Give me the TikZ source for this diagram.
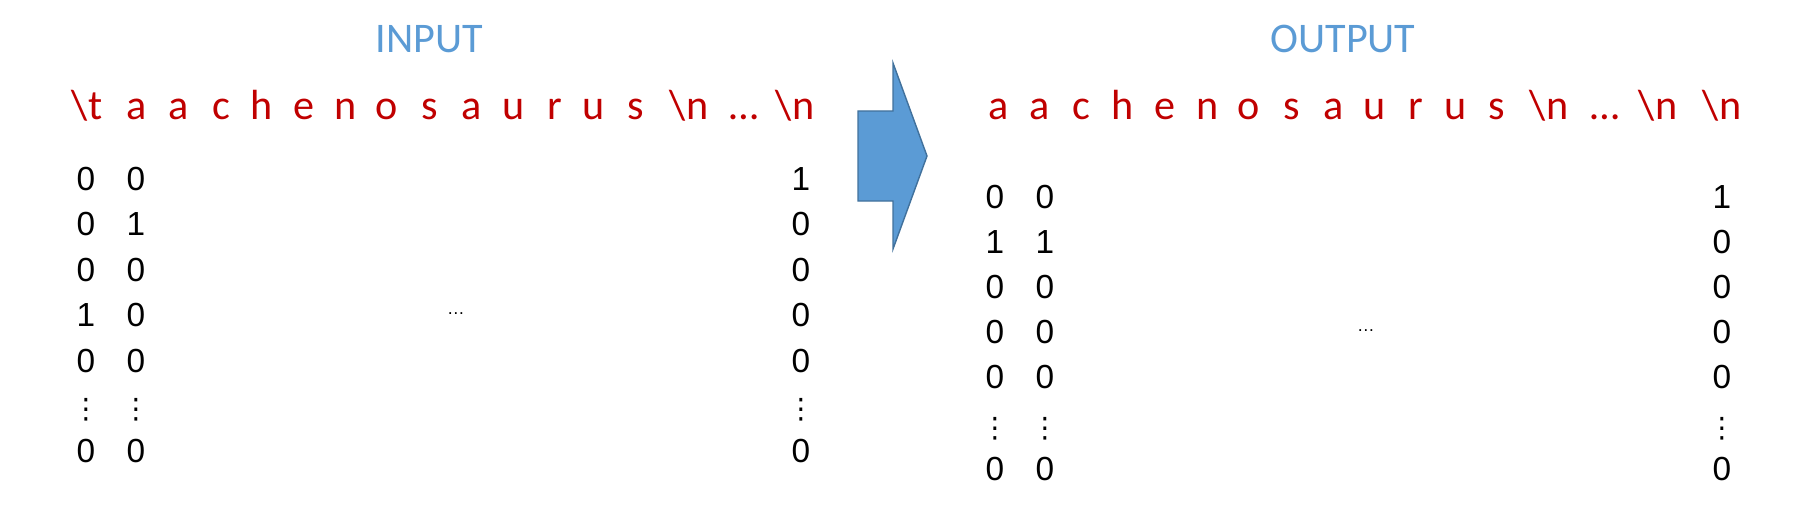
\documentclass[tikz,border=0pt]{standalone}
\usepackage{fontspec}
\setmainfont{Liberation Sans}
\newfontfamily\labelfont{Carlito}
\newfontfamily\symfont{DejaVu Sans}
\usetikzlibrary{positioning}
\definecolor{TitleBlue}{RGB}{91,155,213}
\definecolor{CharRed}{RGB}{192,0,0}
\definecolor{ArrowFill}{RGB}{91,155,213}
\definecolor{ArrowEdge}{RGB}{65,113,156}
\tikzset{
  title/.style={font=\labelfont\fontsize{24}{28}\selectfont,text=TitleBlue,anchor=base,inner sep=0pt},
  token/.style={font=\labelfont\fontsize{24}{28}\selectfont,text=CharRed,anchor=base,inner sep=0pt},
  bit/.style={font=\fontsize{19}{22}\selectfont,anchor=base,inner sep=0pt},
  vdot/.style={font=\symfont\fontsize{16}{18}\selectfont,anchor=base,inner sep=0pt},
  gap/.style={font=\fontsize{10}{12}\selectfont,anchor=base,inner sep=0pt},
  bigarrow/.style={draw=ArrowEdge,fill=ArrowFill,line width=0.8pt}
}

\begin{document}
\begin{tikzpicture}[x=0.02cm,y=-0.02cm]
  \useasboundingbox (0,0) rectangle (1818,510);
  % titles
  \node[title] (intitle) at (429,53) {INPUT};
  \node[title] (outtitle) at (1343,53) {OUTPUT};
  % character rows
  \foreach \x/\c [count=\i] in {87/{\textbackslash t},137/a,179/a,221/c,262/h,304/e,346/n,387/o,430/s,472/a,514/u,555/r,594/u,636/s,689/{\textbackslash n},744/…,795/{\textbackslash n}}
    \node[token] (in\i) at (\x,119) {\c};
  \foreach \x/\c [count=\i] in {999/a,1040/a,1081/c,1123/h,1165/e,1208/n,1249/o,1292/s,1334/a,1375/u,1416/r,1456/u,1497/s,1549/{\textbackslash n},1605/…,1658/{\textbackslash n},1722/{\textbackslash n}}
    \node[token] (out\i) at (\x,119) {\c};
  % one-hot columns, input
  \foreach \v [count=\r] in {0,0,0,1,0} \node[bit] (inA\r) at (86,{190+45.5*(\r-1)}) {\v};
  \foreach \v [count=\r] in {0,1,0,0,0} \node[bit] (inB\r) at (136,{190+45.5*(\r-1)}) {\v};
  \foreach \v [count=\r] in {1,0,0,0,0} \node[bit] (inZ\r) at (801,{190+45.5*(\r-1)}) {\v};
  \node[vdot] (inAdots) at (86,418) {⋮};
  \node[vdot] (inBdots) at (136,418) {⋮};
  \node[vdot] (inZdots) at (801,418) {⋮};
  \node[bit] (inAlast) at (86,462) {0};
  \node[bit] (inBlast) at (136,462) {0};
  \node[bit] (inZlast) at (801,462) {0};
  \node[gap] (ingap) at (456,314) {…};
  % one-hot columns, output
  \foreach \v [count=\r] in {0,1,0,0,0} \node[bit] (outA\r) at (995,{208+45*(\r-1)}) {\v};
  \foreach \v [count=\r] in {0,1,0,0,0} \node[bit] (outB\r) at (1045,{208+45*(\r-1)}) {\v};
  \foreach \v [count=\r] in {1,0,0,0,0} \node[bit] (outZ\r) at (1722,{208+45*(\r-1)}) {\v};
  \node[vdot] (outAdots) at (995,437) {⋮};
  \node[vdot] (outBdots) at (1045,437) {⋮};
  \node[vdot] (outZdots) at (1722,437) {⋮};
  \node[bit] (outAlast) at (995,480) {0};
  \node[bit] (outBlast) at (1045,480) {0};
  \node[bit] (outZlast) at (1722,480) {0};
  \node[gap] (outgap) at (1366,331) {…};
  % block arrow
  \draw[bigarrow] (858,111) -- (893,111) -- (893,63) -- (927,156) -- (893,249) -- (893,201) -- (858,201) -- cycle;
\end{tikzpicture}
\end{document}
